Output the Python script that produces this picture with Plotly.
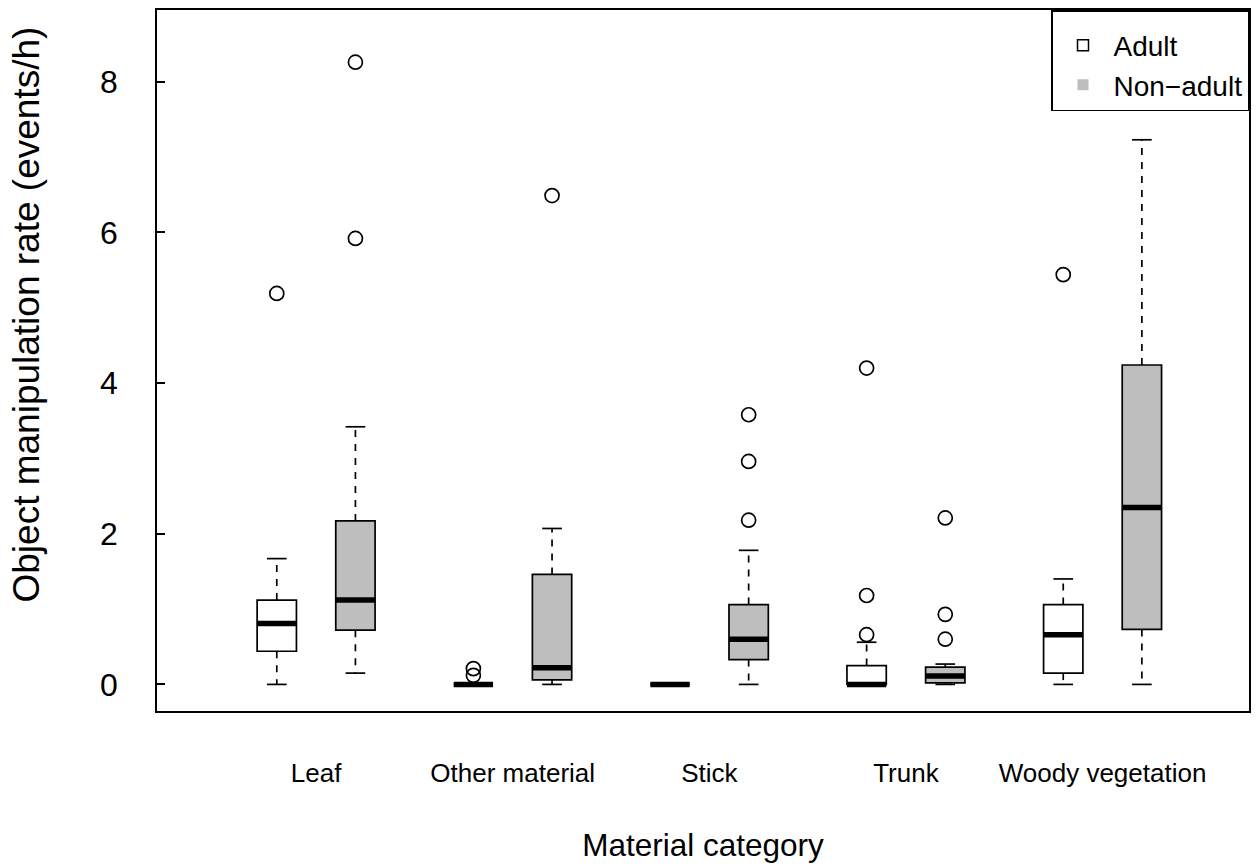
import plotly.graph_objects as go

# Material categories and age groups
categories = ["Leaf", "Other material", "Stick", "Trunk", "Woody vegetation"]
groups = ["Adult", "Non\u2212adult"]
group_fill = {"Adult": "white", "Non\u2212adult": "#bebebe"}

# Box statistics per category, one entry per group (Adult, Non-adult)
whisker_low = {
    "Leaf": [0.0, 0.15], "Other material": [0.0, 0.0], "Stick": [0.0, 0.0],
    "Trunk": [0.0, 0.0], "Woody vegetation": [0.0, 0.0],
}
quart_1 = {
    "Leaf": [0.44, 0.72], "Other material": [0.0, 0.06], "Stick": [0.0, 0.33],
    "Trunk": [0.0, 0.02], "Woody vegetation": [0.15, 0.73],
}
medians = {
    "Leaf": [0.81, 1.12], "Other material": [0.0, 0.22], "Stick": [0.0, 0.60],
    "Trunk": [0.0, 0.11], "Woody vegetation": [0.66, 2.35],
}
quart_3 = {
    "Leaf": [1.12, 2.17], "Other material": [0.0, 1.46], "Stick": [0.0, 1.06],
    "Trunk": [0.25, 0.23], "Woody vegetation": [1.06, 4.24],
}
whisker_high = {
    "Leaf": [1.67, 3.42], "Other material": [0.0, 2.07], "Stick": [0.0, 1.78],
    "Trunk": [0.56, 0.27], "Woody vegetation": [1.40, 7.23],
}
outliers = {
    "Leaf": [[5.19], [5.92, 8.26]],
    "Other material": [[0.12, 0.21], [6.49]],
    "Stick": [[], [2.18, 2.96, 3.58]],
    "Trunk": [[0.66, 1.18, 4.20], [0.60, 0.93, 2.21]],
    "Woody vegetation": [[5.44], []],
}

y_ticks = [0, 2, 4, 6, 8]

FONT = "Liberation Sans, Arial, Helvetica, sans-serif"
BOX_W = 0.5
CAP_W = 0.25
LW = 1.7


def position(ci, gi):
    # two boxes per category, with a wider gap between categories
    return 1 + 2.5 * ci + gi


fig = go.Figure()

whisk_x, whisk_y = [], []
cap_x, cap_y = [], []
med_x, med_y = [], []
out_x, out_y = [], []

for ci, cat in enumerate(categories):
    for gi, grp in enumerate(groups):
        p = position(ci, gi)
        lo, q1, md, q3, hi = (whisker_low[cat][gi], quart_1[cat][gi], medians[cat][gi],
                              quart_3[cat][gi], whisker_high[cat][gi])
        fig.add_trace(go.Box(
            x=[p], q1=[q1], median=[md], q3=[q3], lowerfence=[q1], upperfence=[q3],
            width=BOX_W, whiskerwidth=0, fillcolor=group_fill[grp],
            line=dict(color="black", width=LW), boxpoints=False,
            showlegend=False, hoverinfo="skip",
        ))
        whisk_x += [p, p, None, p, p, None]
        whisk_y += [q3, hi, None, q1, lo, None]
        cap_x += [p - CAP_W / 2, p + CAP_W / 2, None, p - CAP_W / 2, p + CAP_W / 2, None]
        cap_y += [hi, hi, None, lo, lo, None]
        med_x += [p - BOX_W / 2, p + BOX_W / 2, None]
        med_y += [md, md, None]
        for v in outliers[cat][gi]:
            out_x.append(p)
            out_y.append(v)

fig.add_trace(go.Scatter(x=whisk_x, y=whisk_y, mode="lines",
                         line=dict(color="black", width=LW, dash="7px,7px"),
                         showlegend=False, hoverinfo="skip"))
fig.add_trace(go.Scatter(x=cap_x, y=cap_y, mode="lines",
                         line=dict(color="black", width=LW),
                         showlegend=False, hoverinfo="skip"))
fig.add_trace(go.Scatter(x=med_x, y=med_y, mode="lines",
                         line=dict(color="black", width=5.5),
                         showlegend=False, hoverinfo="skip"))
fig.add_trace(go.Scatter(x=out_x, y=out_y, mode="markers",
                         marker=dict(symbol="circle-open", size=14, color="black",
                                     line=dict(width=LW)),
                         showlegend=False, hoverinfo="skip"))

# legend keys
fig.add_trace(go.Scatter(x=[None], y=[None], mode="markers", name=groups[0],
                         marker=dict(symbol="square-open", size=11, color="black",
                                     line=dict(width=1.5))))
fig.add_trace(go.Scatter(x=[None], y=[None], mode="markers", name=groups[1],
                         marker=dict(symbol="square", size=11, color="#bebebe")))

# y-axis title as a rotated annotation left of the tick labels
fig.add_annotation(
    text="Object manipulation rate (events/h)", textangle=-90,
    xref="paper", yref="paper", x=-0.1197, y=0.566,
    xanchor="center", yanchor="middle", showarrow=False,
    font=dict(size=37, family=FONT, color="black"),
)

fig.update_layout(
    width=1259, height=866,
    margin=dict(l=157, r=8, t=8, b=155),
    paper_bgcolor="white", plot_bgcolor="white",
    font=dict(family=FONT, color="black"),
    legend=dict(x=1, y=1, xanchor="right", yanchor="top",
                bordercolor="black", borderwidth=1.5, bgcolor="white",
                font=dict(size=28), itemwidth=51,
                tracegroupgap=0,
                title=dict(text=" ", font=dict(size=7))),
    xaxis=dict(
        range=[-0.523, 13.362],
        tickvals=[position(ci, 0.5) for ci in range(len(categories))],
        ticktext=categories, ticks="", tickfont=dict(size=26),
        ticklabelstandoff=38,
        showline=True, mirror=True, linecolor="black", linewidth=1.5,
        showgrid=False, zeroline=False,
        title=dict(text="Material category", font=dict(size=31.5), standoff=47),
    ),
    yaxis=dict(
        range=[-0.353, 8.953], tickvals=y_ticks,
        ticks="inside", ticklen=8, tickcolor="black", tickwidth=1.5,
        tickfont=dict(size=32), ticklabelstandoff=31,
        showline=True, mirror=True, linecolor="black", linewidth=1.5,
        showgrid=False, zeroline=False,
    ),
)

fig.write_html("out.html")
